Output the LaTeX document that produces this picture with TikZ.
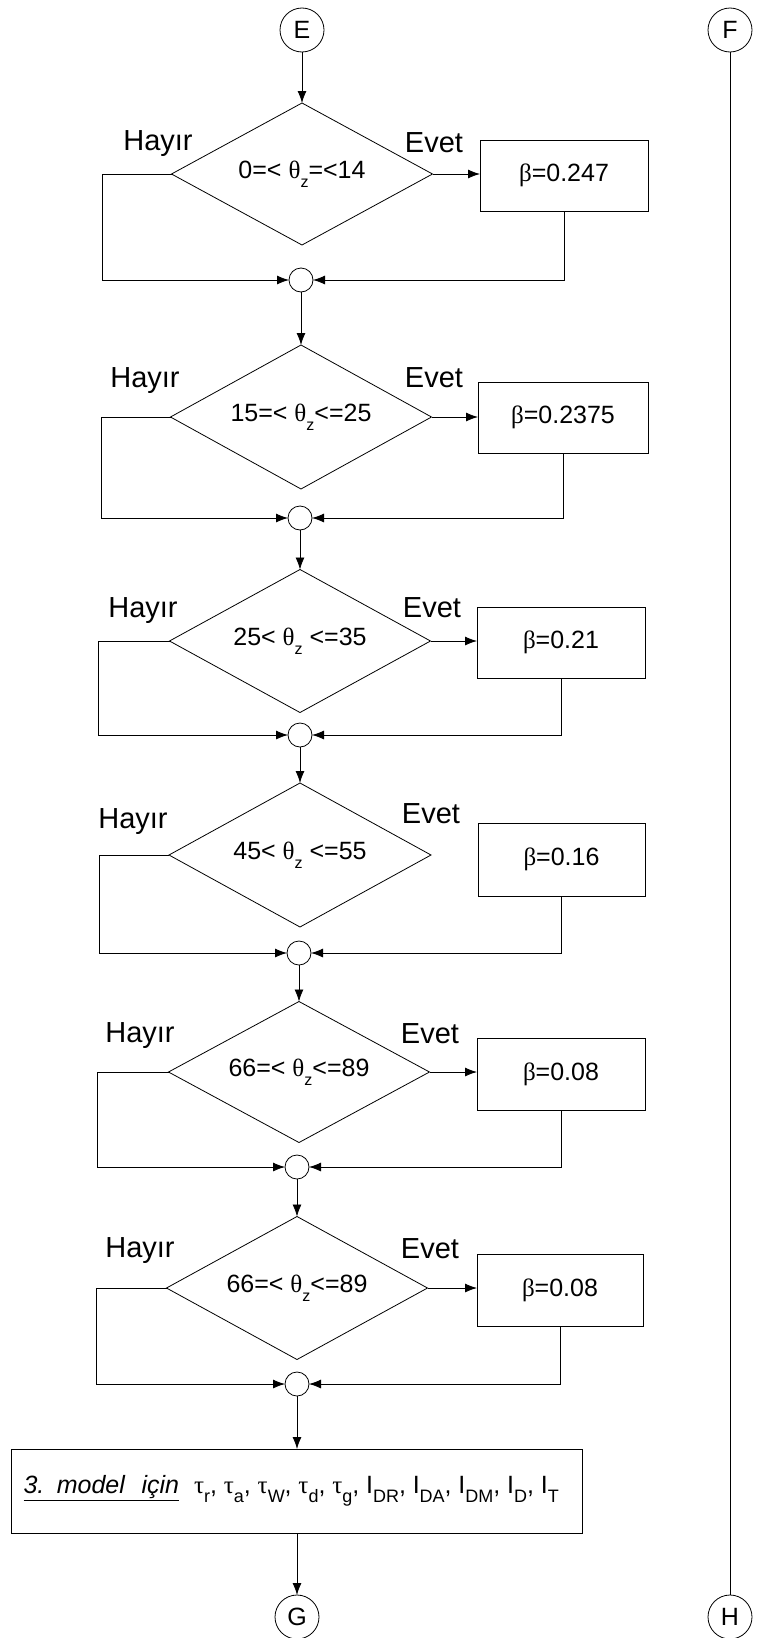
\documentclass[tikz,border=0pt]{standalone}
\usepackage{fontspec}
\setmainfont{Liberation Sans}
\newfontfamily\gkf{Liberation Serif}
\usetikzlibrary{shapes.geometric,arrows.meta}
\newcommand\gk[1]{{\gkf #1}}
\newcommand\lowsub[1]{\raisebox{-0.36em}{\fontsize{16}{16}\selectfont #1}}
\newcommand\bsub[1]{\raisebox{-0.36em}{\fontsize{18}{18}\selectfont #1}}
\newcommand\csep{,\hspace{6.8pt}}
\begin{document}
\begin{tikzpicture}[x=1pt,y=-1pt,
  ln/.style={line width=0.8pt},
  arr/.style={line width=0.8pt,-{Latex[length=12pt,width=9pt]}},
  dec/.style={draw,diamond,aspect=2,inner sep=0pt,outer sep=0pt,line width=0.8pt,minimum width=261pt,font=\fontsize{25}{28}\selectfont},
  val/.style={draw,rectangle,inner sep=0pt,outer sep=0pt,line width=0.8pt,font=\fontsize{25}{28}\selectfont},
  conn/.style={draw,circle,minimum size=44pt,inner sep=0pt,outer sep=0pt,line width=0.8pt,font=\fontsize{25}{28}\selectfont},
  junc/.style={draw,circle,minimum size=24pt,inner sep=0pt,outer sep=0pt,line width=0.8pt},
  lbl/.style={anchor=base,inner sep=0pt,font=\fontsize{29}{32}\selectfont}]
\useasboundingbox (0,0) rectangle (756,1638);
\fill[white] (0,0) rectangle (756,1638);

% connectors
\node[conn] (E) at (302,30) {E};
\node[conn] (F) at (730,30) {F};
\node[conn] (H) at (730,1617) {H};
\node[conn] (G) at (297,1617) {G};

% row 1
\node[dec,minimum height=142pt] (d1) at (302,174) {0=< \gk{θ}\lowsub{z}=<14};
\node[val,minimum width=168pt,minimum height=71pt] (b1) at (564,175.5) {\gk{β}=0.247};
\node[junc] (j1) at (301,280) {};
\coordinate (l1) at (102,280);
\node[lbl] (h1) at (158,150) {Hayır};
\node[lbl] (e1) at (434,152) {Evet};

% row 2
\node[dec,minimum height=144pt] (d2) at (301,417) {15=< \gk{θ}\lowsub{z}<=25};
\node[val,minimum width=170pt,minimum height=71pt] (b2) at (563,417.5) {\gk{β}=0.2375};
\node[junc] (j2) at (300,518) {};
\coordinate (l2) at (101,518);
\node[lbl] (h2) at (145,387) {Hayır};
\node[lbl] (e2) at (434,387) {Evet};

% row 3
\node[dec,minimum height=143pt] (d3) at (300,641) {25< \gk{θ}\lowsub{z} <=35};
\node[val,minimum width=168pt,minimum height=71pt] (b3) at (561,642.5) {\gk{β}=0.21};
\node[junc] (j3) at (300,735) {};
\coordinate (l3) at (98,735);
\node[lbl] (h3) at (143,617) {Hayır};
\node[lbl] (e3) at (432,617) {Evet};

% row 4
\node[dec,minimum height=144pt,minimum width=262pt] (d4) at (300,855) {45< \gk{θ}\lowsub{z} <=55};
\node[val,minimum width=167pt,minimum height=73pt] (b4) at (561.5,859.5) {\gk{β}=0.16};
\node[junc] (j4) at (299,953) {};
\coordinate (l4) at (99,953);
\node[lbl] (h4) at (133,828) {Hayır};
\node[lbl] (e4) at (431,823) {Evet};

% row 5
\node[dec,minimum height=141pt] (d5) at (299,1072) {66=< \gk{θ}\lowsub{z}<=89};
\node[val,minimum width=168pt,minimum height=72pt] (b5) at (561,1074) {\gk{β}=0.08};
\node[junc] (j5) at (297,1167) {};
\coordinate (l5) at (97,1167);
\node[lbl] (h5) at (140,1042) {Hayır};
\node[lbl] (e5) at (430,1043) {Evet};

% row 6
\node[dec,minimum height=143pt] (d6) at (297,1288) {66=< \gk{θ}\lowsub{z}<=89};
\node[val,minimum width=166pt,minimum height=72pt] (b6) at (560,1290) {\gk{β}=0.08};
\node[junc] (j6) at (297,1384) {};
\coordinate (l6) at (96,1384);
\node[lbl] (h6) at (140,1257) {Hayır};
\node[lbl] (e6) at (430,1258) {Evet};

% bottom box
\node[draw,rectangle,inner xsep=12pt,inner ysep=0pt,outer sep=0pt,line width=0.8pt,
  text width=547pt,align=left,minimum height=84pt,
  font=\fontsize{25}{28}\selectfont] (m) at (297,1491)
  {\raisebox{-11pt}{\underline{\textit{3. model\ \ için}}\hspace{15pt}%
  \gk{τ}\bsub{r}\csep\gk{τ}\bsub{a}\csep\gk{τ}\bsub{W}\csep\gk{τ}\bsub{d}\csep\gk{τ}\bsub{g}\csep I\bsub{DR}\csep I\bsub{DA}\csep I\bsub{DM}\csep I\bsub{D}\csep I\bsub{T}}};

% edges
\draw[arr] (E) -- (d1.north);
\draw[ln] (F) -- (H);

\draw[arr] (d1.east) -- (d1.east -| b1.west);
\draw[arr] (d1.west) -| (l1) -- (j1.west);
\draw[arr] (b1.south) |- (j1.east);
\draw[arr] (j1.south) -- (d2.north);

\draw[arr] (d2.east) -- (d2.east -| b2.west);
\draw[arr] (d2.west) -| (l2) -- (j2.west);
\draw[arr] (b2.south) |- (j2.east);
\draw[arr] (j2.south) -- (d3.north);

\draw[arr] (d3.east) -- (d3.east -| b3.west);
\draw[arr] (d3.west) -| (l3) -- (j3.west);
\draw[arr] (b3.south) |- (j3.east);
\draw[arr] (j3.south) -- (d4.north);

\draw[arr] (d4.west) -| (l4) -- (j4.west);
\draw[arr] (b4.south) |- (j4.east);
\draw[arr] (j4.south) -- (d5.north);

\draw[arr] (d5.east) -- (d5.east -| b5.west);
\draw[arr] (d5.west) -| (l5) -- (j5.west);
\draw[arr] (b5.south) |- (j5.east);
\draw[arr] (j5.south) -- (d6.north);

\draw[arr] (d6.east) -- (d6.east -| b6.west);
\draw[arr] (d6.west) -| (l6) -- (j6.west);
\draw[arr] (b6.south) |- (j6.east);
\draw[arr] (j6.south) -- (m.north);
\draw[arr] (m.south) -- (G);
\end{tikzpicture}
\end{document}
